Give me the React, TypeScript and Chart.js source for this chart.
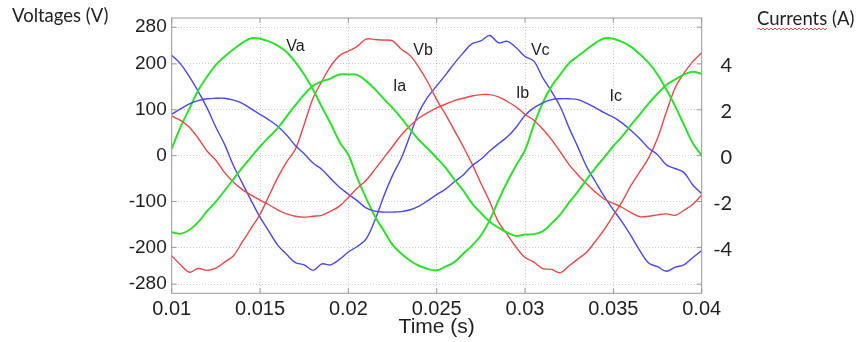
import { useEffect, useRef } from 'react';
import { Chart, registerables } from 'chart.js';

Chart.register(...registerables);

// Time axis (s)
const time = [
  0.01, 0.0105, 0.011, 0.0115, 0.012, 0.0125, 0.013, 0.0135, 0.014, 0.0145,
  0.015, 0.0155, 0.016, 0.0165, 0.017, 0.0175, 0.018, 0.0185, 0.019, 0.0195,
  0.02, 0.0205, 0.021, 0.0215, 0.022, 0.0225, 0.023, 0.0235, 0.024, 0.0245,
  0.025, 0.0255, 0.026, 0.0265, 0.027, 0.0275, 0.028, 0.0285, 0.029, 0.0295,
  0.03, 0.0305, 0.031, 0.0315, 0.032, 0.0325, 0.033, 0.0335, 0.034, 0.0345,
  0.035, 0.0355, 0.036, 0.0365, 0.037, 0.0375, 0.038, 0.0385, 0.039, 0.0395,
  0.04,
];

// Voltages (V)
const va = [
  15, 62, 102, 142, 172, 198, 216, 232, 246, 256,
  255, 249, 240, 226, 204, 177, 144, 106, 70, 30,
  2, -48, -92, -132, -163, -194, -214, -229, -240, -247,
  -250, -242, -232, -214, -196, -174, -141, -97, -57, -21,
  12, 67, 115, 151, 177, 202, 217, 232, 246, 256,
  255, 248, 237, 221, 202, 177, 144, 108, 67, 27,
  0,
];
const vb = [
  -218, -238, -254, -246, -250, -245, -232, -218, -188, -158,
  -128, -88, -48, -14, 14, 68, 125, 162, 195, 218,
  228, 238, 254, 253, 252, 250, 232, 218, 192, 160,
  122, 90, 55, 20, -18, -60, -100, -145, -172, -200,
  -222, -232, -246, -248, -255, -240, -225, -210, -186, -160,
  -130, -100, -65, -35, -5, 38, 95, 148, 180, 205,
  224,
];
const vc = [
  219, 200, 172, 140, 104, 62, 24, -22, -60, -98,
  -134, -165, -195, -215, -233, -238, -250, -236, -238, -226,
  -210, -198, -182, -141, -89, -43, -5, 45, 95, 128,
  152, 176, 201, 224, 244, 250, 262, 246, 249, 235,
  216, 206, 170, 140, 106, 60, 18, -25, -58, -90,
  -118, -145, -175, -207, -234, -242, -252, -243, -238, -222,
  -207,
];

// Currents (A)
const ia = [
  -3.34, -3.4, -3.24, -2.9, -2.42, -2.0, -1.52, -1.02, -0.52, -0.06,
  0.4, 0.8, 1.2, 1.7, 2.2, 2.66, 3.04, 3.24, 3.36, 3.54,
  3.54, 3.52, 3.26, 2.9, 2.48, 2.08, 1.64, 1.14, 0.68, 0.3,
  -0.1, -0.52, -1.04, -1.52, -2.08, -2.5, -2.88, -3.14, -3.36, -3.5,
  -3.44, -3.42, -3.3, -2.96, -2.56, -2.04, -1.56, -1.02, -0.52, -0.06,
  0.42, 0.84, 1.34, 1.8, 2.28, 2.7, 3.08, 3.32, 3.54, 3.66,
  3.56,
];
const ib = [
  1.72, 1.54, 1.24, 0.76, 0.2, -0.2, -0.74, -1.16, -1.48, -1.72,
  -1.94, -2.14, -2.36, -2.54, -2.64, -2.68, -2.64, -2.6, -2.42, -2.2,
  -1.82, -1.42, -1.08, -0.6, -0.1, 0.4, 0.9, 1.3, 1.64, 1.88,
  2.08, 2.24, 2.4, 2.5, 2.6, 2.66, 2.66, 2.56, 2.36, 2.12,
  1.8, 1.54, 1.16, 0.7, 0.16, -0.4, -0.84, -1.24, -1.6, -1.9,
  -2.08, -2.26, -2.48, -2.66, -2.64, -2.58, -2.54, -2.6, -2.38, -2.12,
  -1.72,
];
const ic = [
  1.8, 2.04, 2.26, 2.4, 2.48, 2.5, 2.5, 2.42, 2.28, 2.04,
  1.8, 1.56, 1.28, 0.9, 0.44, 0.08, -0.32, -0.6, -1.0, -1.38,
  -1.68, -1.96, -2.28, -2.42, -2.46, -2.46, -2.44, -2.36, -2.2, -1.96,
  -1.7, -1.46, -1.14, -0.84, -0.44, -0.16, 0.2, 0.52, 0.82, 1.24,
  1.76, 2.08, 2.3, 2.44, 2.48, 2.48, 2.44, 2.28, 2.08, 1.86,
  1.68, 1.42, 1.1, 0.74, 0.32, 0.04, -0.4, -0.56, -0.74, -1.28,
  -1.66,
];

// Axis ticks
const xTicks = [0.01, 0.015, 0.02, 0.025, 0.03, 0.035, 0.04];
const xTickLabels = ['0.01', '0.015', '0.02', '0.025', '0.03', '0.035', '0.04'];
const voltTicks = [-280, -200, -100, 0, 100, 200, 280];
const currTicks = [-4, -2, 0, 2, 4];

// In-plot curve labels (anchored in data coordinates: time, volts)
const curveLabels = ['Va', 'Vb', 'Ia', 'Vc', 'Ib', 'Ic'];
const curveLabelTimes = [0.01701, 0.02423, 0.0229, 0.03086, 0.02986, 0.03513];
const curveLabelVolts = [237, 230, 150, 228, 135, 129];

const GREEN = 'rgb(44,224,44)';
const RED = 'rgb(234,72,72)';
const BLUE = 'rgb(72,72,234)';
const SANS = '"Liberation Sans", Arial, sans-serif';
const TITLE_FONT = 'Lato, "Open Sans", sans-serif';

const pts = (vals: number[]) => time.map((t, i) => ({ x: t, y: vals[i] }));

const decor = {
  id: 'decor',
  afterDatasetsDraw(chart: any) {
    const { ctx, chartArea: a, scales } = chart;
    ctx.save();
    // frame
    ctx.strokeStyle = '#9a9a9a';
    ctx.lineWidth = 1;
    ctx.strokeRect(a.left, a.top, a.right - a.left, a.bottom - a.top);
    // inward ticks on all four sides
    const L = 5;
    ctx.beginPath();
    for (const v of voltTicks) {
      const y = scales.y.getPixelForValue(v);
      ctx.moveTo(a.left, y);
      ctx.lineTo(a.left + L, y);
      ctx.moveTo(a.right, y);
      ctx.lineTo(a.right - L, y);
    }
    for (const t of xTicks) {
      const x = scales.x.getPixelForValue(t);
      ctx.moveTo(x, a.bottom);
      ctx.lineTo(x, a.bottom - L);
      ctx.moveTo(x, a.top);
      ctx.lineTo(x, a.top + L);
    }
    ctx.stroke();
    // curve labels
    ctx.fillStyle = '#1e1e1e';
    ctx.font = '16px ' + SANS;
    ctx.textAlign = 'center';
    ctx.textBaseline = 'middle';
    curveLabels.forEach((s, i) => {
      ctx.fillText(
        s,
        scales.x.getPixelForValue(curveLabelTimes[i]),
        scales.y.getPixelForValue(curveLabelVolts[i])
      );
    });
    ctx.restore();
  },
  afterDraw(chart: any) {
    const { ctx, chartArea: a, scales } = chart;
    ctx.save();
    ctx.fillStyle = '#222';
    // right-hand current axis labels, right aligned
    ctx.font = '20px ' + TITLE_FONT;
    ctx.textAlign = 'right';
    ctx.textBaseline = 'middle';
    for (const v of currTicks) {
      ctx.fillText(v < 0 ? '-' + Math.abs(v) : String(v), a.right + 30.5, scales.y2.getPixelForValue(v) + 2);
    }
    // axis titles
    ctx.font = '18.5px ' + TITLE_FONT;
    ctx.textAlign = 'left';
    ctx.textBaseline = 'alphabetic';
    ctx.fillText('Voltages (V)', 12, 22);
    const cx = 757;
    const cy = 24.5;
    ctx.fillText('Currents (A)', cx, cy);
    const w = ctx.measureText('Currents').width;
    // spell-check style wavy underline
    ctx.strokeStyle = 'rgb(230,80,80)';
    ctx.lineWidth = 1;
    ctx.beginPath();
    let up = true;
    ctx.moveTo(cx, cy + 5);
    for (let x = cx + 2; x <= cx + w; x += 2) {
      ctx.lineTo(x, cy + (up ? 3.5 : 5.5));
      up = !up;
    }
    ctx.stroke();
    ctx.restore();
  },
};

export default function App() {
  const ref = useRef<HTMLCanvasElement | null>(null);

  useEffect(() => {
    if (!ref.current) return;
    Chart.defaults.font.family = SANS;
    Chart.defaults.color = '#1e1e1e';
    const lineDs = (label: string, vals: number[], color: string, width: number, axis: string) => ({
      label,
      data: pts(vals),
      borderColor: color,
      backgroundColor: color,
      borderWidth: width,
      pointRadius: 0,
      tension: 0.35,
      yAxisID: axis,
    });
    const chart = new Chart(ref.current, {
      type: 'line',
      data: {
        datasets: [
          lineDs('Ia', ia, GREEN, 2, 'y2'),
          lineDs('Ib', ib, RED, 1.4, 'y2'),
          lineDs('Ic', ic, BLUE, 1.4, 'y2'),
          lineDs('Va', va, GREEN, 2, 'y'),
          lineDs('Vb', vb, RED, 1.4, 'y'),
          lineDs('Vc', vc, BLUE, 1.4, 'y'),
        ],
      },
      options: {
        animation: false,
        responsive: true,
        maintainAspectRatio: false,
        devicePixelRatio: 1,
        layout: { padding: { top: 18, left: 0, right: 0, bottom: 0 } },
        plugins: { legend: { display: false }, tooltip: { enabled: false } },
        scales: {
          x: {
            type: 'linear',
            min: 0.01,
            max: 0.04,
            afterBuildTicks: (s: any) => {
              s.ticks = xTicks.map((v) => ({ value: v }));
            },
            afterFit: (s: any) => {
              s.height = 48.7;
            },
            ticks: {
              padding: 4,
              font: { size: 20, family: SANS },
              color: '#1e1e1e',
              maxRotation: 0,
              callback: (v: any) => xTickLabels[xTicks.indexOf(v)],
            },
            grid: { color: 'rgba(0,0,0,0.2)', drawTicks: false, lineWidth: 1 },
            border: { display: false, dash: [1, 2] },
            title: {
              display: true,
              text: 'Time (s)',
              font: { size: 21, family: SANS },
              color: '#1e1e1e',
              padding: { top: 0, bottom: 2 },
            },
          },
          y: {
            type: 'linear',
            position: 'left',
            min: -300,
            max: 300,
            afterBuildTicks: (s: any) => {
              s.ticks = voltTicks.map((v) => ({ value: v }));
            },
            afterFit: (s: any) => {
              s.width = 171.7;
            },
            ticks: {
              padding: 5,
              font: { size: 19, family: SANS },
              color: '#1e1e1e',
            },
            grid: { color: 'rgba(0,0,0,0.2)', drawTicks: false, lineWidth: 1 },
            border: { display: false, dash: [1, 2] },
          },
          y2: {
            type: 'linear',
            position: 'right',
            min: -6,
            max: 6,
            afterBuildTicks: (s: any) => {
              s.ticks = currTicks.map((v) => ({ value: v }));
            },
            afterFit: (s: any) => {
              s.width = 161.3;
            },
            ticks: { display: false },
            grid: { display: false, drawTicks: false },
            border: { display: false },
          },
        },
      },
      plugins: [decor],
    } as any);
    return () => chart.destroy();
  }, []);

  return (
    <div style={{ position: 'fixed', left: 0, top: 0, width: 863, height: 342 }}>
      <canvas ref={ref} />
    </div>
  );
}
